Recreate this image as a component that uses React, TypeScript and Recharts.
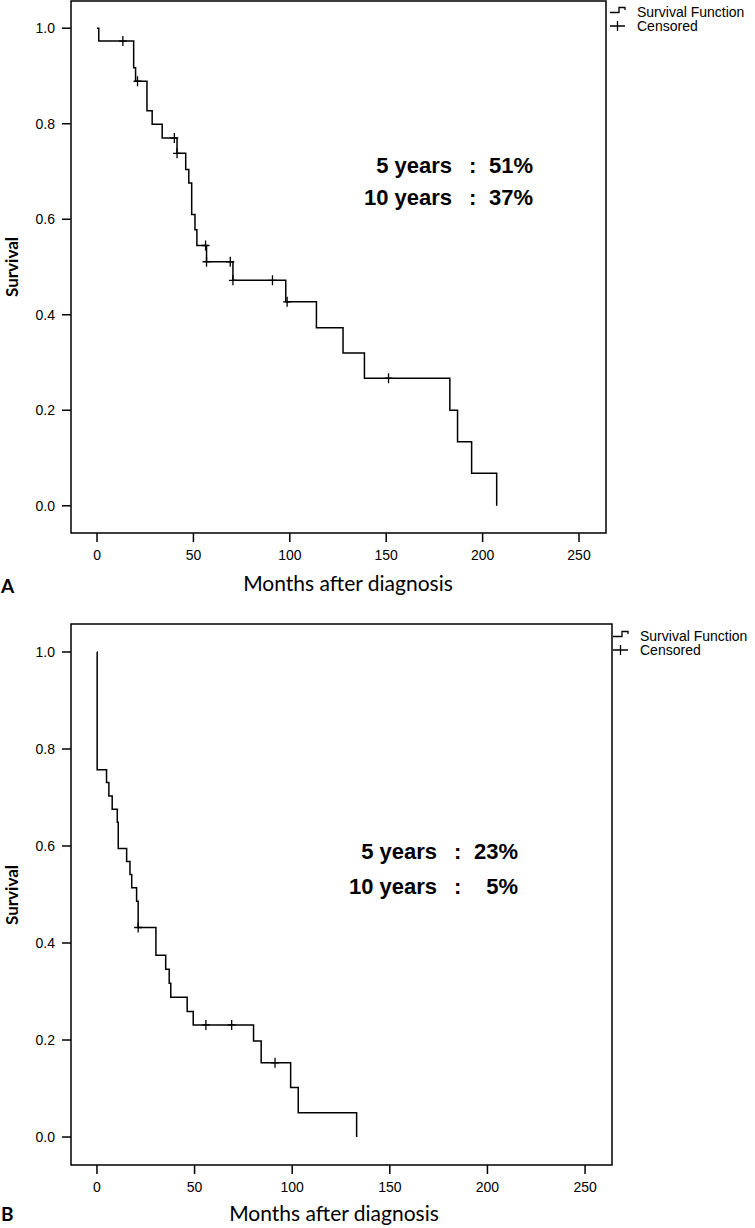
import { ComposedChart, Line, Scatter, XAxis, YAxis, ReferenceArea } from 'recharts'

// axis ticks shared by both panels
const xTicks = [0, 50, 100, 150, 200, 250]
const yTicks = [0, 0.2, 0.4, 0.6, 0.8, 1.0]

// panel A - Kaplan-Meier steps (months, survival)
const monthsA = [0, 0.9, 19, 20, 25.9, 28.6, 33.8, 41.5, 46, 47.6, 49.1, 50.8, 51.8, 56.8, 70.5, 97.9, 113.8, 127.6, 138.7, 183, 187, 194.3, 207.3]
const survivalA = [1.0, 0.973, 0.917, 0.889, 0.827, 0.799, 0.77, 0.738, 0.704, 0.676, 0.61, 0.578, 0.545, 0.511, 0.472, 0.427, 0.373, 0.32, 0.267, 0.2, 0.134, 0.068, 0.0]
const censorMonthsA = [13.4, 21, 40.1, 41.5, 56.3, 56.8, 69.1, 70.5, 91, 98.6, 151.2]
const censorSurvivalA = [0.973, 0.889, 0.77, 0.738, 0.545, 0.511, 0.511, 0.472, 0.472, 0.427, 0.267]

// panel B
const monthsB = [0, 0.1, 4.9, 6.1, 7.8, 10.4, 10.9, 15.2, 16.9, 17.8, 20.3, 21.1, 30.2, 35.2, 37, 37.8, 46.2, 49.3, 80.2, 84.1, 99.2, 103.1, 133]
const survivalB = [1.0, 0.757, 0.731, 0.703, 0.676, 0.649, 0.595, 0.568, 0.541, 0.514, 0.486, 0.432, 0.375, 0.346, 0.317, 0.288, 0.259, 0.231, 0.198, 0.153, 0.102, 0.05, 0.0]
const censorMonthsB = [21.1, 55.8, 69, 91.2]
const censorSurvivalB = [0.432, 0.231, 0.231, 0.153]

const toRows = (t: number[], s: number[]) => t.map((v, i) => ({ t: v, s: s[i] }))

const tickFont = '"Liberation Sans Narrow", "Liberation Sans", Arial, sans-serif'
const titleFont = 'Lato, "Open Sans", sans-serif'
const boldFont = '"Liberation Sans", Arial, sans-serif'

const CensorMark = (props: any) => {
  const { cx, cy } = props
  if (cx == null || cy == null) return null
  return (
    <path
      d={`M${cx - 4},${cy}H${cx + 4}M${cx},${cy - 5}V${cy + 5}`}
      stroke="#000"
      strokeWidth={1.3}
      fill="none"
    />
  )
}

const KmPanel = ({ curve, censored, xDomain, yDomain, top, height, margin }: any) => (
  <div style={{ position: 'absolute', left: 0, top }}>
    <ComposedChart width={755} height={height} margin={margin}>
      <XAxis
        type="number"
        dataKey="t"
        domain={xDomain}
        ticks={xTicks}
        interval={0}
        axisLine={false}
        tickLine={{ stroke: '#000', strokeWidth: 1.5 }}
        tickSize={9}
        tickMargin={8}
        height={30}
        tick={{ fill: '#000', fontSize: 14, fontFamily: tickFont }}
      />
      <YAxis
        type="number"
        dataKey="s"
        domain={yDomain}
        ticks={yTicks}
        interval={0}
        width={60}
        axisLine={false}
        tickLine={{ stroke: '#000', strokeWidth: 1.5 }}
        tickSize={9}
        tickMargin={7}
        tickFormatter={(v: number) => v.toFixed(1)}
        tick={{ fill: '#000', fontSize: 14, fontFamily: tickFont }}
      />
      <ReferenceArea
        x1={xDomain[0]}
        x2={xDomain[1]}
        y1={yDomain[0]}
        y2={yDomain[1]}
        fill="none"
        stroke="#000"
        strokeWidth={1.5}
        ifOverflow="visible"
      />
      <Line
        data={curve}
        dataKey="s"
        type="stepAfter"
        stroke="#000"
        strokeWidth={1.5}
        dot={false}
        activeDot={false}
        isAnimationActive={false}
      />
      <Scatter data={censored} dataKey="s" shape={CensorMark} isAnimationActive={false} />
    </ComposedChart>
  </div>
)

const KmLegend = ({ left, top }: { left: number; top: number }) => (
  <div style={{ position: 'absolute', left, top, width: 150, height: 32 }}>
    <svg width={16} height={30} style={{ position: 'absolute', left: 0, top: 0 }}>
      <path d="M0,7.5H9V2.5H15V5" stroke="#000" strokeWidth={1.3} fill="none" />
      <path d="M0,21H15M7.5,16V26" stroke="#000" strokeWidth={1.3} fill="none" />
    </svg>
    <div style={{ position: 'absolute', left: 27, top: -1, fontFamily: boldFont, fontSize: 14, lineHeight: '16px', whiteSpace: 'nowrap' }}>
      Survival Function
    </div>
    <div style={{ position: 'absolute', left: 27, top: 13, fontFamily: boldFont, fontSize: 14, lineHeight: '16px', whiteSpace: 'nowrap' }}>
      Censored
    </div>
  </div>
)

const Annot = ({ rows, labelRight, colonX, valueRight }: any) => (
  <>
    {rows.map((r: any, i: number) => (
      <div key={i}>
        <div style={{ position: 'absolute', right: 755 - labelRight, top: r.y - 13, fontFamily: boldFont, fontWeight: 'bold', fontSize: 22, lineHeight: '26px', whiteSpace: 'nowrap' }}>
          {r.label}
        </div>
        <div style={{ position: 'absolute', left: colonX - 4, top: r.y - 13, fontFamily: boldFont, fontWeight: 'bold', fontSize: 22, lineHeight: '26px' }}>
          :
        </div>
        <div style={{ position: 'absolute', right: 755 - valueRight, top: r.y - 13, fontFamily: boldFont, fontWeight: 'bold', fontSize: 22, lineHeight: '26px', whiteSpace: 'nowrap' }}>
          {r.value}
        </div>
      </div>
    ))}
  </>
)

const AxisTitles = ({ xCenter, xY, yCenter, panel, panelY }: any) => (
  <>
    <div style={{ position: 'absolute', left: xCenter - 150, width: 300, top: xY - 12, textAlign: 'center', fontFamily: titleFont, fontSize: 21, lineHeight: '24px' }}>
      Months after diagnosis
    </div>
    <div style={{ position: 'absolute', left: 12 - 50, top: yCenter - 11, width: 100, textAlign: 'center', transform: 'rotate(-90deg)', fontFamily: titleFont, fontWeight: 'bold', fontSize: 17, lineHeight: '22px' }}>
      Survival
    </div>
    <div style={{ position: 'absolute', left: 1, top: panelY - 10, fontFamily: titleFont, fontWeight: 'bold', fontSize: 19, lineHeight: '20px' }}>
      {panel}
    </div>
  </>
)

export default function App() {
  return (
    <div style={{ position: 'absolute', left: 0, top: 0, width: 755, height: 1228, background: '#fff', overflow: 'hidden' }}>
      <KmPanel
        curve={toRows(monthsA, survivalA)}
        censored={toRows(censorMonthsA, censorSurvivalA)}
        xDomain={[-13.5, 264]}
        yDomain={[-0.057, 1.057]}
        top={0}
        height={600}
        margin={{ top: 1, right: 149, bottom: 37, left: 11 }}
      />
      <KmLegend left={610} top={5} />
      <Annot
        rows={[
          { y: 166, label: '5 years', value: '51%' },
          { y: 198, label: '10 years', value: '37%' },
        ]}
        labelRight={452}
        colonX={473}
        valueRight={533}
      />
      <AxisTitles xCenter={348} xY={583} yCenter={267} panel="A" panelY={586} />

      <KmPanel
        curve={toRows(monthsB, survivalB)}
        censored={toRows(censorMonthsB, censorSurvivalB)}
        xDomain={[-13.3, 263.8]}
        yDomain={[-0.0577, 1.0577]}
        top={600}
        height={628}
        margin={{ top: 24, right: 143, bottom: 33, left: 11 }}
      />
      <KmLegend left={613} top={629} />
      <Annot
        rows={[
          { y: 852, label: '5 years', value: '23%' },
          { y: 887, label: '10 years', value: '5%' },
        ]}
        labelRight={437}
        colonX={458}
        valueRight={518}
      />
      <AxisTitles xCenter={334} xY={1213} yCenter={895} panel="B" panelY={1214} />
    </div>
  )
}
